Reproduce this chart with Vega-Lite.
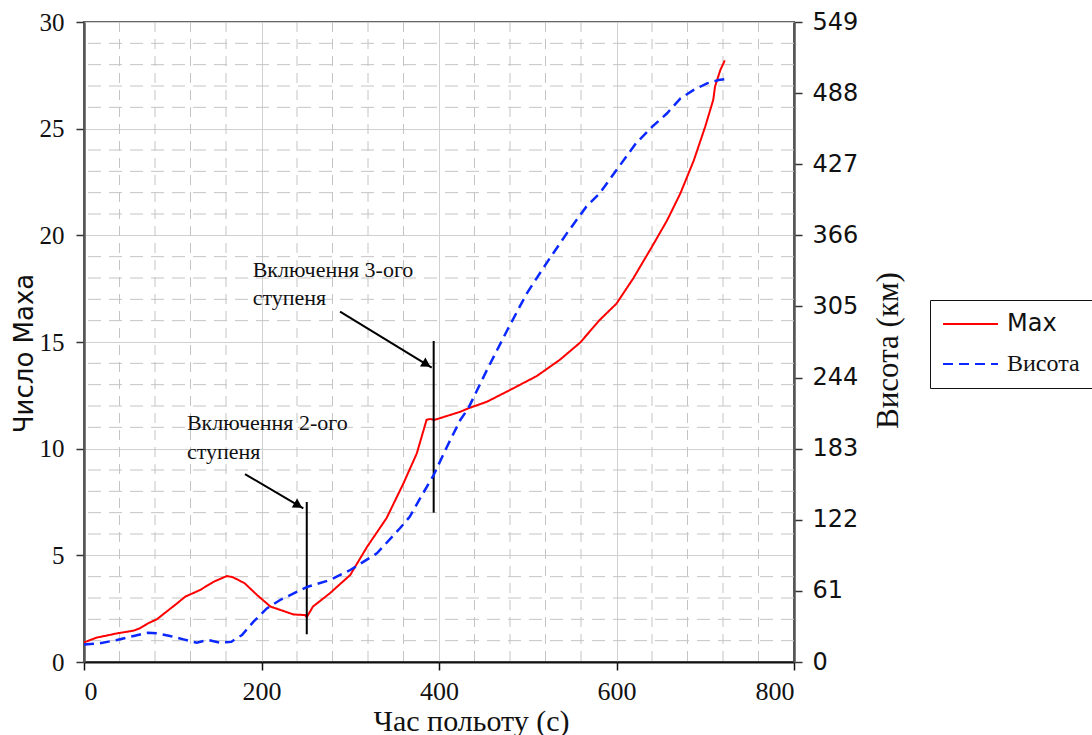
{
  "$schema": "https://vega.github.io/schema/vega-lite/v6.json",
  "width": 710,
  "height": 640,
  "autosize": {"type": "none"},
  "padding": {"left": 84, "top": 22, "right": 298, "bottom": 73},
  "background": "white",
  "config": {
    "view": {"stroke": "#666666", "strokeWidth": 2},
    "axis": {"titleFontWeight": "normal", "labelColor": "#111111", "titleColor": "#111111"}
  },
  "datasets": {
    "mach": [
      {"t": 0, "m": 0.92, "series": "Max"},
      {"t": 14, "m": 1.14, "series": "Max"},
      {"t": 37, "m": 1.34, "series": "Max"},
      {"t": 56, "m": 1.47, "series": "Max"},
      {"t": 63, "m": 1.58, "series": "Max"},
      {"t": 72, "m": 1.81, "series": "Max"},
      {"t": 82, "m": 2.0, "series": "Max"},
      {"t": 93, "m": 2.36, "series": "Max"},
      {"t": 104, "m": 2.72, "series": "Max"},
      {"t": 114, "m": 3.06, "series": "Max"},
      {"t": 131, "m": 3.38, "series": "Max"},
      {"t": 146, "m": 3.76, "series": "Max"},
      {"t": 161, "m": 4.03, "series": "Max"},
      {"t": 168, "m": 3.97, "series": "Max"},
      {"t": 181, "m": 3.69, "series": "Max"},
      {"t": 195, "m": 3.14, "series": "Max"},
      {"t": 210, "m": 2.6, "series": "Max"},
      {"t": 236, "m": 2.23, "series": "Max"},
      {"t": 249, "m": 2.2, "series": "Max"},
      {"t": 251, "m": 2.1, "series": "Max"},
      {"t": 258, "m": 2.6, "series": "Max"},
      {"t": 277, "m": 3.22, "series": "Max"},
      {"t": 300, "m": 4.08, "series": "Max"},
      {"t": 319, "m": 5.4, "series": "Max"},
      {"t": 341, "m": 6.75, "series": "Max"},
      {"t": 360, "m": 8.38, "series": "Max"},
      {"t": 375, "m": 9.78, "series": "Max"},
      {"t": 386, "m": 11.35, "series": "Max"},
      {"t": 390, "m": 11.39, "series": "Max"},
      {"t": 395, "m": 11.35, "series": "Max"},
      {"t": 424, "m": 11.73, "series": "Max"},
      {"t": 433, "m": 11.89, "series": "Max"},
      {"t": 454, "m": 12.2, "series": "Max"},
      {"t": 480, "m": 12.75, "series": "Max"},
      {"t": 510, "m": 13.4, "series": "Max"},
      {"t": 536, "m": 14.16, "series": "Max"},
      {"t": 559, "m": 14.97, "series": "Max"},
      {"t": 581, "m": 16.03, "series": "Max"},
      {"t": 600, "m": 16.8, "series": "Max"},
      {"t": 619, "m": 17.99, "series": "Max"},
      {"t": 640, "m": 19.47, "series": "Max"},
      {"t": 657, "m": 20.7, "series": "Max"},
      {"t": 672, "m": 21.97, "series": "Max"},
      {"t": 687, "m": 23.5, "series": "Max"},
      {"t": 700, "m": 25.1, "series": "Max"},
      {"t": 709, "m": 26.35, "series": "Max"},
      {"t": 711, "m": 26.97, "series": "Max"},
      {"t": 717, "m": 27.75, "series": "Max"},
      {"t": 722, "m": 28.2, "series": "Max"}
    ],
    "altitude": [
      {"t": 0, "km": 15, "series": "Висота"},
      {"t": 18, "km": 16, "series": "Висота"},
      {"t": 37, "km": 18.9, "series": "Висота"},
      {"t": 56, "km": 22.3, "series": "Висота"},
      {"t": 72, "km": 25.1, "series": "Висота"},
      {"t": 82, "km": 24.6, "series": "Висота"},
      {"t": 97, "km": 22.3, "series": "Висота"},
      {"t": 112, "km": 19.4, "series": "Висота"},
      {"t": 127, "km": 16.6, "series": "Висота"},
      {"t": 140, "km": 18.9, "series": "Висота"},
      {"t": 153, "km": 16.6, "series": "Висота"},
      {"t": 166, "km": 17.4, "series": "Висота"},
      {"t": 178, "km": 23.2, "series": "Висота"},
      {"t": 191, "km": 34.6, "series": "Висота"},
      {"t": 206, "km": 46, "series": "Висота"},
      {"t": 221, "km": 53.2, "series": "Висота"},
      {"t": 252, "km": 64.6, "series": "Висота"},
      {"t": 277, "km": 70.3, "series": "Висота"},
      {"t": 300, "km": 78.9, "series": "Висота"},
      {"t": 330, "km": 93.2, "series": "Висота"},
      {"t": 356, "km": 114.7, "series": "Висота"},
      {"t": 367, "km": 124.6, "series": "Висота"},
      {"t": 382, "km": 144.7, "series": "Висота"},
      {"t": 394, "km": 160.4, "series": "Висота"},
      {"t": 409, "km": 184.7, "series": "Висота"},
      {"t": 424, "km": 207.6, "series": "Висота"},
      {"t": 433, "km": 217.6, "series": "Висота"},
      {"t": 454, "km": 250.5, "series": "Висота"},
      {"t": 477, "km": 284.8, "series": "Висота"},
      {"t": 499, "km": 316.3, "series": "Висота"},
      {"t": 521, "km": 342, "series": "Висота"},
      {"t": 544, "km": 367.7, "series": "Висота"},
      {"t": 566, "km": 390.6, "series": "Висота"},
      {"t": 581, "km": 402, "series": "Висота"},
      {"t": 600, "km": 422, "series": "Висота"},
      {"t": 622, "km": 445, "series": "Висота"},
      {"t": 640, "km": 459, "series": "Висота"},
      {"t": 657, "km": 470.7, "series": "Висота"},
      {"t": 672, "km": 483.5, "series": "Висота"},
      {"t": 687, "km": 490.7, "series": "Висота"},
      {"t": 702, "km": 496.4, "series": "Висота"},
      {"t": 715, "km": 499.2, "series": "Висота"},
      {"t": 722, "km": 500, "series": "Висота"}
    ],
    "minorX": [
      {"t": 40}, {"t": 80}, {"t": 120}, {"t": 160},
      {"t": 240}, {"t": 280}, {"t": 320}, {"t": 360},
      {"t": 440}, {"t": 480}, {"t": 520}, {"t": 560},
      {"t": 640}, {"t": 680}, {"t": 720}, {"t": 760}
    ],
    "minorY": [
      {"m": 1}, {"m": 2}, {"m": 3}, {"m": 4},
      {"m": 6}, {"m": 7}, {"m": 8}, {"m": 9},
      {"m": 11}, {"m": 12}, {"m": 13}, {"m": 14},
      {"m": 16}, {"m": 17}, {"m": 18}, {"m": 19},
      {"m": 21}, {"m": 22}, {"m": 23}, {"m": 24},
      {"m": 26}, {"m": 27}, {"m": 28}, {"m": 29}
    ],
    "stages": [
      {"t": 251, "m": 1.3, "m2": 7.5},
      {"t": 394, "m": 7.0, "m2": 15.05}
    ],
    "arrows": [
      {"t": 181.4, "m": 8.81, "t2": 247.1, "m2": 7.2},
      {"t": 288.5, "m": 16.42, "t2": 391.8, "m2": 13.8}
    ],
    "heads": [
      {"t": 241.5, "m": 7.34},
      {"t": 386, "m": 13.95}
    ],
    "notes": [
      {"t": 116, "m": 11.2, "txt": "Включення 2-ого"},
      {"t": 116, "m": 9.85, "txt": "ступеня"},
      {"t": 190, "m": 18.38, "txt": "Включення 3-ого"},
      {"t": 190, "m": 17.06, "txt": "ступеня"}
    ]
  },
  "layer": [
    {
      "data": {"name": "minorX"},
      "mark": {"type": "rule", "stroke": "#c4c4c4", "strokeWidth": 1, "strokeDash": [10, 7]},
      "encoding": {
        "x": {
          "field": "t", "type": "quantitative",
          "scale": {"domain": [0, 800], "nice": false},
          "axis": {
            "values": [0, 200, 400, 600, 800],
            "grid": true, "gridColor": "#d0d0d0", "gridWidth": 1,
            "domainColor": "#111111", "domainWidth": 2,
            "tickColor": "#111111", "tickSize": 8, "tickWidth": 1.5,
            "labelFont": "Liberation Serif", "labelFontSize": 26, "labelPadding": 8,
            "title": "Час польоту (с)",
            "titleFont": "Liberation Serif", "titleFontSize": 30,
            "titlePadding": 2, "titleX": 387
          }
        }
      }
    },
    {
      "data": {"name": "minorY"},
      "mark": {"type": "rule", "stroke": "#c4c4c4", "strokeWidth": 1, "strokeDash": [13, 8]},
      "encoding": {
        "y": {
          "field": "m", "type": "quantitative",
          "scale": {"domain": [0, 30], "nice": false},
          "axis": {
            "orient": "left",
            "values": [0, 5, 10, 15, 20, 25, 30],
            "grid": true, "gridColor": "#d0d0d0", "gridWidth": 1,
            "domainColor": "#555555", "domainWidth": 2.5,
            "tickColor": "#333333", "tickSize": 8, "tickWidth": 1.5,
            "labelFont": "Liberation Serif", "labelFontSize": 25, "labelPadding": 12,
            "title": "Число Маха",
            "titleFont": "DejaVu Sans", "titleFontSize": 26,
            "titlePadding": 2, "titleY": 331
          }
        }
      }
    },
    {
      "data": {"name": "mach"},
      "mark": {"type": "line", "strokeWidth": 2},
      "encoding": {
        "x": {"field": "t", "type": "quantitative", "axis": null},
        "y": {"field": "m", "type": "quantitative", "scale": {"domain": [0, 30], "nice": false}, "axis": null},
        "color": {
          "field": "series", "type": "nominal",
          "scale": {"domain": ["Max", "Висота"], "range": ["#ff0000", "#0a28ff"]},
          "legend": {
            "title": null, "orient": "none", "legendX": 846, "legendY": 278,
            "symbolType": "stroke", "symbolSize": 3025, "symbolStrokeWidth": 2,
            "clipHeight": 24, "rowPadding": 16, "padding": 12,
            "labelFontSize": 24, "labelColor": "#111111", "labelOffset": 8,
            "fillColor": "white", "strokeColor": "#111111", "cornerRadius": 0,
            "encode": {
              "labels": {
                "update": {
                  "font": {"signal": "datum.label === 'Max' ? 'DejaVu Sans' : 'Liberation Serif'"}
                }
              }
            }
          }
        },
        "strokeDash": {
          "field": "series", "type": "nominal",
          "scale": {"domain": ["Max", "Висота"], "range": [[1, 0], [10, 6]]},
          "legend": {
            "title": null, "orient": "none", "legendX": 846, "legendY": 278,
            "symbolType": "stroke", "symbolSize": 3025, "symbolStrokeWidth": 2,
            "clipHeight": 24, "rowPadding": 16, "padding": 12,
            "labelFontSize": 24, "labelColor": "#111111", "labelOffset": 8,
            "fillColor": "white", "strokeColor": "#111111", "cornerRadius": 0,
            "encode": {
              "labels": {
                "update": {
                  "font": {"signal": "datum.label === 'Max' ? 'DejaVu Sans' : 'Liberation Serif'"}
                }
              }
            }
          }
        }
      }
    },
    {
      "data": {"name": "stages"},
      "mark": {"type": "rule", "stroke": "#000000", "strokeWidth": 2},
      "encoding": {
        "x": {"field": "t", "type": "quantitative", "axis": null},
        "y": {"field": "m", "type": "quantitative", "scale": {"domain": [0, 30], "nice": false}, "axis": null},
        "y2": {"field": "m2"}
      }
    },
    {
      "data": {"name": "arrows"},
      "mark": {"type": "rule", "stroke": "#000000", "strokeWidth": 2},
      "encoding": {
        "x": {"field": "t", "type": "quantitative", "axis": null},
        "y": {"field": "m", "type": "quantitative", "scale": {"domain": [0, 30], "nice": false}, "axis": null},
        "x2": {"field": "t2"},
        "y2": {"field": "m2"}
      }
    },
    {
      "data": {"name": "heads"},
      "mark": {"type": "point", "shape": "triangle-right", "filled": true, "color": "#000000", "size": 110, "angle": 31, "opacity": 1},
      "encoding": {
        "x": {"field": "t", "type": "quantitative", "axis": null},
        "y": {"field": "m", "type": "quantitative", "scale": {"domain": [0, 30], "nice": false}, "axis": null}
      }
    },
    {
      "data": {"name": "notes"},
      "mark": {"type": "text", "font": "Liberation Serif", "fontSize": 22, "align": "left", "baseline": "middle", "color": "#111111"},
      "encoding": {
        "x": {"field": "t", "type": "quantitative", "axis": null},
        "y": {"field": "m", "type": "quantitative", "scale": {"domain": [0, 30], "nice": false}, "axis": null},
        "text": {"field": "txt"}
      }
    },
    {
      "data": {"name": "altitude"},
      "mark": {"type": "line", "strokeWidth": 2.5},
      "encoding": {
        "x": {"field": "t", "type": "quantitative", "axis": null},
        "y": {
          "field": "km", "type": "quantitative",
          "scale": {"domain": [0, 549], "nice": false},
          "axis": {
            "orient": "right",
            "values": [0, 61, 122, 183, 244, 305, 366, 427, 488, 549],
            "grid": false,
            "domainColor": "#555555", "domainWidth": 2.5,
            "tickColor": "#333333", "tickSize": 8, "tickWidth": 1.5,
            "labelFont": "DejaVu Sans", "labelFontSize": 24, "labelPadding": 10,
            "title": "Висота (км)",
            "titleFont": "Liberation Serif", "titleFontSize": 31,
            "titleAngle": 270, "titleBaseline": "top", "titlePadding": 16, "titleY": 328
          }
        },
        "color": {"field": "series", "type": "nominal"},
        "strokeDash": {"field": "series", "type": "nominal"}
      }
    }
  ],
  "resolve": {"scale": {"y": "independent"}, "axis": {"x": "independent", "y": "independent"}}
}
